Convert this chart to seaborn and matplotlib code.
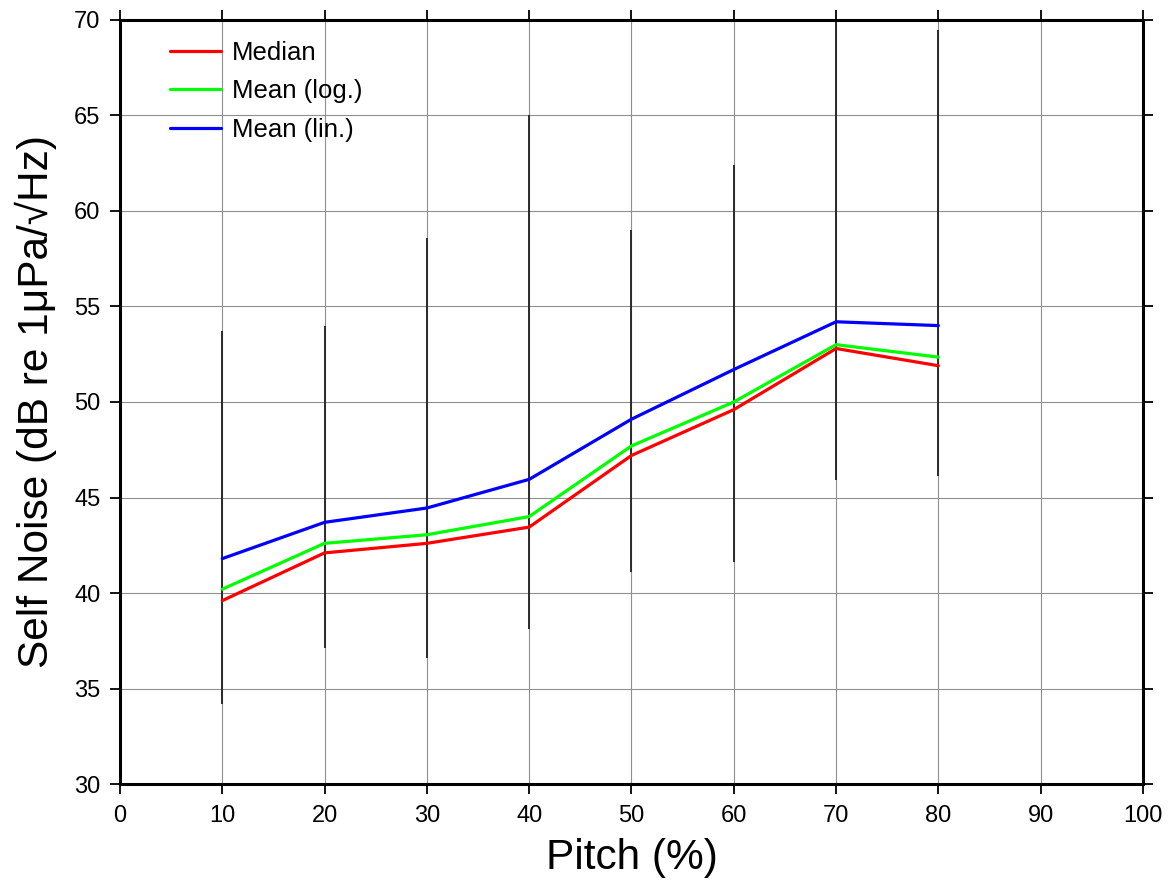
import numpy as np
import pandas as pd
import matplotlib
matplotlib.use("Agg")
import matplotlib.pyplot as plt
import seaborn as sns

# Pitch bins (%)
pitch = [10, 20, 30, 40, 50, 60, 70, 80]

# Self-noise statistics per pitch bin (dB re 1 µPa/√Hz)
median = [39.6, 42.1, 42.6, 43.45, 47.2, 49.6, 52.8, 51.9]
mean_log = [40.2, 42.6, 43.05, 44.0, 47.7, 50.0, 53.0, 52.35]
mean_lin = [41.8, 43.7, 44.45, 45.95, 49.1, 51.7, 54.2, 54.0]

# Spread of the individual samples in each bin
sample_min = [34.2, 37.1, 36.6, 38.1, 41.1, 41.6, 45.9, 46.1]
sample_max = [53.7, 54.0, 58.6, 65.0, 59.0, 62.4, 70.0, 69.5]

series_names = ["Median", "Mean (log.)", "Mean (lin.)"]
series_colors = ["#ff0000", "#00ff00", "#0000ff"]

sns.set_theme(style="white")
plt.rcParams["font.family"] = ["Liberation Sans", "DejaVu Sans"]
plt.rcParams.update({
    "text.color": "black",
    "axes.labelcolor": "black",
    "xtick.color": "black",
    "ytick.color": "black",
})

df = pd.DataFrame({
    "pitch": pitch * 3,
    "noise": median + mean_log + mean_lin,
    "stat": sum([[n] * len(pitch) for n in series_names], []),
})

fig = plt.figure(figsize=(11.68, 8.88), dpi=100)
ax = fig.add_axes([0.1027, 0.1171, 0.8759, 0.8604])

ax.set_xlim(0, 100)
ax.set_ylim(30, 70)
ax.set_xticks(np.arange(0, 101, 10))
ax.set_yticks(np.arange(30, 71, 5))
ax.grid(True, color="#8f8f8f", lw=0.8)
ax.set_axisbelow(True)

# sample spread in each bin
ax.vlines(pitch, sample_min, sample_max, color="#2a2a2a", lw=1.4, zorder=2)

sns.lineplot(data=df, x="pitch", y="noise", hue="stat", hue_order=series_names,
             palette=series_colors, lw=2.3, ax=ax, zorder=3, legend=True)

for side in ["left", "right", "top", "bottom"]:
    ax.spines[side].set_visible(True)
    ax.spines[side].set_color("black")
    ax.spines[side].set_linewidth(2.2)

ax.tick_params(axis="both", which="major", direction="out", length=7, width=1.3,
               color="black", labelsize=17,
               top=True, right=True, bottom=True, left=True,
               labeltop=False, labelright=False)
ax.tick_params(axis="x", pad=8)
ax.tick_params(axis="y", pad=7)

ax.set_xlabel("Pitch (%)", fontsize=30.5, labelpad=8)
ax.set_ylabel("Self Noise (dB re 1μPa/√Hz)", fontsize=30.5, labelpad=12)

leg = ax.legend(loc="upper left", bbox_to_anchor=(0.026, 1.003), frameon=False,
                fontsize=18.5, handlelength=2.0, handletextpad=0.43,
                labelspacing=0.56)
for line in leg.get_lines():
    line.set_linewidth(2.3)

fig.savefig("out.png", dpi=100, facecolor="white")
